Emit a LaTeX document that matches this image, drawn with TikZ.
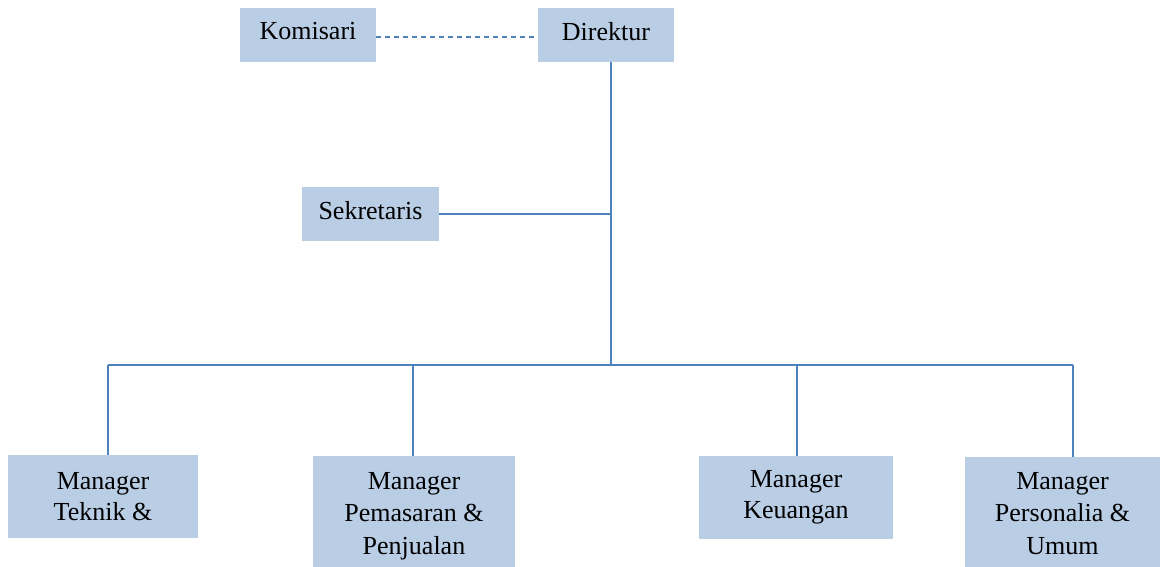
\documentclass[tikz,border=0pt]{standalone}
\usepackage{fontspec}
\setmainfont{Liberation Serif}
\definecolor{boxfill}{HTML}{B9CDE5}
\definecolor{linecol}{HTML}{4F81BD}
\begin{document}
\begin{tikzpicture}[x=1pt,y=1pt,
  orgbox/.style={fill=boxfill, draw=none, inner sep=0pt},
  boxtext/.style={inner sep=0pt, align=center, font=\fontsize{26}{31}\selectfont},
  toptext/.style={boxtext, yshift=3.5pt},
  talltext/.style={boxtext, font=\fontsize{26}{32.5}\selectfont, yshift=-4pt},
  conn/.style={draw=linecol, line width=1.4pt}]
\useasboundingbox (0,0) rectangle (1160,567);
\node[orgbox, minimum width=136, minimum height=54, label={[toptext]center:Komisari}] (kom) at (308,532) {};
\node[orgbox, minimum width=136, minimum height=54, label={[toptext]center:Direktur}] (dir) at (606,532) {};
\node[orgbox, minimum width=137, minimum height=54, label={[toptext]center:Sekretaris}] (sek) at (370.5,353) {};
\node[orgbox, minimum width=190, minimum height=83, label={[boxtext]center:{Manager\\Teknik \&}}] (tek) at (103,70.5) {};
\node[orgbox, minimum width=202, minimum height=112, label={[talltext]center:{Manager\\Pemasaran \&\\Penjualan}}] (pem) at (414,55) {};
\node[orgbox, minimum width=194, minimum height=83, label={[boxtext]center:{Manager\\Keuangan}}] (keu) at (796,69.5) {};
\node[orgbox, minimum width=195, minimum height=110, label={[talltext]center:{Manager\\Personalia \&\\Umum\vphantom{j}}}] (per) at (1062.5,55) {};
\coordinate (bus) at (611,202);
\coordinate (b1) at (108,202);
\coordinate (b2) at (413,202);
\coordinate (b3) at (797,202);
\coordinate (b4) at (1073,202);
\draw[conn, dash pattern=on 5pt off 4pt] ([yshift=-2pt]kom.east) -- ([yshift=-2pt]dir.west);
\draw[conn] (dir.south -| bus) -- (bus);
\draw[conn] (sek.east) -- (sek.east -| bus);
\draw[conn] (b1) -- (b4);
\draw[conn] (b1) -- (b1 |- tek.north);
\draw[conn] (b2) -- (b2 |- pem.north);
\draw[conn] (b3) -- (b3 |- keu.north);
\draw[conn] (b4) -- (b4 |- per.north);
\end{tikzpicture}
\end{document}
